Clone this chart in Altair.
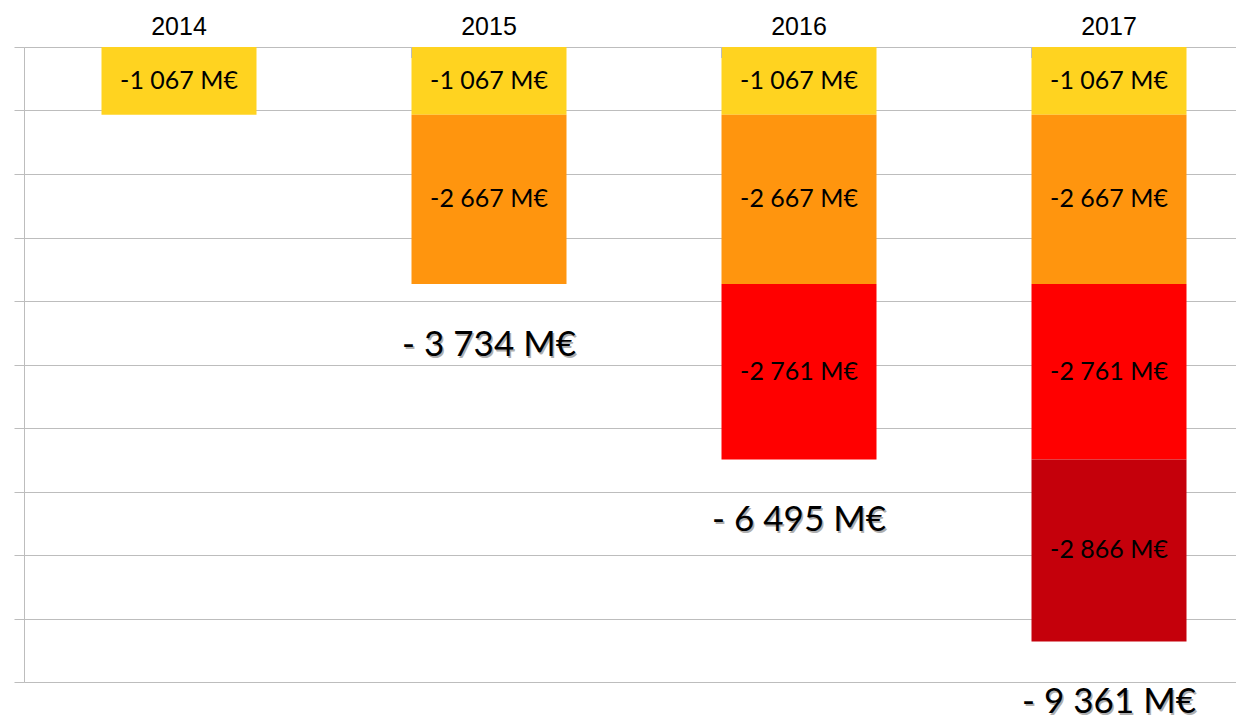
import altair as alt
import pandas as pd

years = ["2014", "2015", "2016", "2017"]
segments = ["s1", "s2", "s3", "s4"]
seg_colors = ["#FFD320", "#FF950E", "#FF0000", "#C5000B"]
seg_values = [-1067, -2667, -2761, -2866]
# number of segments present in each year
n_segments = [1, 2, 3, 4]
totals_years = ["2015", "2016", "2017"]
totals = [-3734, -6495, -9361]
boundary_years = ["2015", "2016", "2017"]
y_ticks = list(range(-10000, 1, 1000))


def fmt(v, sep_after_sign=False):
    s = f"{abs(v):,}".replace(",", " ")
    return ("- " if sep_after_sign else "-") + s + " M€"


rows = []
for yr, n in zip(years, n_segments):
    start = 0
    for i in range(n):
        end = start + seg_values[i]
        rows.append({"year": yr, "seg": segments[i], "order": i,
                     "start": start, "end": end, "mid": (start + end) / 2,
                     "label": fmt(seg_values[i])})
        start = end
bars_df = pd.DataFrame(rows)
tot_df = pd.DataFrame({"year": totals_years, "total": totals,
                       "label": [fmt(t, True) for t in totals]})
bound_df = pd.DataFrame({"year": boundary_years})

xscale = alt.Scale(domain=years, paddingInner=0.5, paddingOuter=0.25, range=[0, 1240])
yscale = alt.Scale(domain=[-10000, 0], nice=False, zero=False)

x_axis = alt.Axis(orient="top", title=None, domain=False, ticks=False, grid=False,
                  labelFont="Liberation Sans", labelFontSize=25, labelColor="#000000",
                  labelBaseline="alphabetic", labelPadding=13, labelAngle=0)
y_axis = alt.Axis(orient="left", title=None, labels=False, values=y_ticks,
                  grid=True, gridColor="#bdbdbd", gridWidth=1,
                  domain=True, domainColor="#bdbdbd", domainWidth=1,
                  ticks=True, tickSize=10, tickColor="#bdbdbd", tickWidth=1)

base = alt.Chart(bars_df)

bars = base.mark_bar().encode(
    x=alt.X("year:N", scale=xscale, axis=x_axis),
    y=alt.Y("start:Q", scale=yscale, axis=y_axis),
    y2="end:Q",
    color=alt.Color("seg:N", scale=alt.Scale(domain=segments, range=seg_colors), legend=None),
)

bar_text = base.mark_text(font="Lato", fontSize=25, color="#000000", baseline="middle").encode(
    x=alt.X("year:N", scale=xscale),
    y=alt.Y("mid:Q", scale=yscale),
    text="label:N",
)

bounds = alt.Chart(bound_df).mark_rule(color="#bdbdbd", strokeWidth=1).encode(
    x=alt.X("year:N", scale=xscale, bandPosition=0),
    y=alt.value(0),
    y2=alt.value(11),
)

tot_base = alt.Chart(tot_df)
tot_shadow = tot_base.mark_text(font="Lato", fontSize=35, color="#9a9a9a", opacity=0.8,
                                baseline="middle", dx=1.5, dy=62.5).encode(
    x=alt.X("year:N", scale=xscale),
    y=alt.Y("total:Q", scale=yscale),
    text="label:N",
)
tot_text = tot_base.mark_text(font="Lato", fontSize=35, color="#000000",
                              baseline="middle", dy=61).encode(
    x=alt.X("year:N", scale=xscale),
    y=alt.Y("total:Q", scale=yscale),
    text="label:N",
)

chart = alt.layer(bars, bar_text, bounds, tot_shadow, tot_text).properties(
    width=1212, height=635,
    autosize=alt.AutoSizeParams(type="none"),
    padding={"left": 16, "top": 39, "right": 0, "bottom": 39},
).configure_view(stroke=None).configure(background="#ffffff")

chart.save("out.html", embed_options={"renderer": "svg", "actions": False})
